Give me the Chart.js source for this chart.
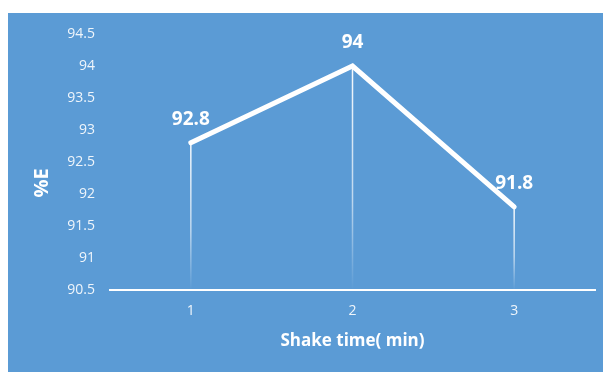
<!DOCTYPE html>
<html>
<head>
<meta charset="utf-8">
<script src="https://cdn.jsdelivr.net/npm/chart.js@4/dist/chart.umd.min.js"></script>
<style>
  html, body { margin: 0; padding: 0; background: #ffffff; }
  #wrap { width: 603px; height: 372px; position: relative; }
</style>
</head>
<body>
<div id="wrap"><canvas id="c" width="603" height="372"></canvas></div>
<script>
// Shake time (min) vs extraction percentage
const categories = ['1', '2', '3'];
const extraction = [92.8, 94, 91.8];
const yTicks = [90.5, 91, 91.5, 92, 92.5, 93, 93.5, 94, 94.5];

const FONT = '"Open Sans", "Noto Sans", sans-serif';
const PANEL = '#5B9BD5';

// Blue panel behind the whole chart
const panelBg = {
  id: 'panelBg',
  beforeDraw(chart) {
    const ctx = chart.ctx;
    ctx.save();
    ctx.fillStyle = PANEL;
    ctx.fillRect(8, 13, chart.width - 8, chart.height - 13);
    ctx.restore();
  }
};

// Fading vertical drop lines from each point down to the axis
const dropLines = {
  id: 'dropLines',
  beforeDatasetsDraw(chart) {
    const ctx = chart.ctx;
    const bottom = chart.chartArea.bottom;
    chart.getDatasetMeta(0).data.forEach(pt => {
      const g = ctx.createLinearGradient(0, pt.y, 0, bottom);
      g.addColorStop(0, 'rgba(255,255,255,0.95)');
      g.addColorStop(0.6, 'rgba(255,255,255,0.6)');
      g.addColorStop(1, 'rgba(255,255,255,0)');
      ctx.save();
      ctx.strokeStyle = g;
      ctx.lineWidth = 1.5;
      ctx.beginPath();
      ctx.moveTo(pt.x, pt.y);
      ctx.lineTo(pt.x, bottom);
      ctx.stroke();
      ctx.restore();
    });
  }
};

// Value labels above each point
const valueLabels = {
  id: 'valueLabels',
  afterDatasetsDraw(chart) {
    const ctx = chart.ctx;
    const ds = chart.data.datasets[0];
    ctx.save();
    ctx.fillStyle = '#ffffff';
    ctx.font = 'bold 19px ' + FONT;
    ctx.textAlign = 'center';
    ctx.textBaseline = 'alphabetic';
    chart.getDatasetMeta(0).data.forEach((pt, i) => {
      ctx.fillText(String(ds.data[i]), pt.x, pt.y - 18);
    });
    ctx.restore();
  }
};

// Rotated y-axis title
const yTitle = {
  id: 'yTitle',
  afterDraw(chart) {
    const ctx = chart.ctx;
    ctx.save();
    ctx.translate(42, 183);
    ctx.rotate(-Math.PI / 2);
    ctx.fillStyle = '#ffffff';
    ctx.font = 'bold 20px ' + FONT;
    ctx.textAlign = 'center';
    ctx.textBaseline = 'middle';
    ctx.fillText('%E', 0, 0);
    ctx.restore();
  }
};

new Chart(document.getElementById('c'), {
  type: 'line',
  data: {
    labels: categories,
    datasets: [{
      data: extraction,
      borderColor: '#ffffff',
      borderWidth: 5,
      borderCapStyle: 'round',
      borderJoinStyle: 'miter',
      pointRadius: 0,
      pointHoverRadius: 0,
      tension: 0,
      fill: false
    }]
  },
  options: {
    responsive: false,
    animation: false,
    devicePixelRatio: 1,
    events: [],
    layout: { padding: { left: 0, top: 34, right: 8, bottom: 0 } },
    plugins: {
      legend: { display: false },
      tooltip: { enabled: false },
      title: { display: false }
    },
    scales: {
      x: {
        type: 'category',
        offset: true,
        grid: { display: false, drawTicks: false },
        border: { display: true, color: '#ffffff', width: 2 },
        ticks: {
          color: 'rgba(255,255,255,0.9)',
          font: { family: FONT, size: 14 },
          padding: 13
        },
        title: {
          display: true,
          text: 'Shake time( min)',
          color: '#ffffff',
          font: { family: FONT, size: 17, weight: 'bold' },
          padding: { top: 0, bottom: 21 }
        },
        afterFit(scale) { scale.height = 82; }
      },
      y: {
        min: 90.5,
        max: 94.5,
        grid: { display: false, drawTicks: false },
        border: { display: false },
        afterBuildTicks(scale) { scale.ticks = yTicks.map(v => ({ value: v })); },
        ticks: {
          color: 'rgba(255,255,255,0.9)',
          font: { family: FONT, size: 14 },
          padding: 15,
          callback: v => String(v)
        },
        afterFit(scale) { scale.width = 110; }
      }
    }
  },
  plugins: [panelBg, dropLines, valueLabels, yTitle]
});
</script>
</body>
</html>
